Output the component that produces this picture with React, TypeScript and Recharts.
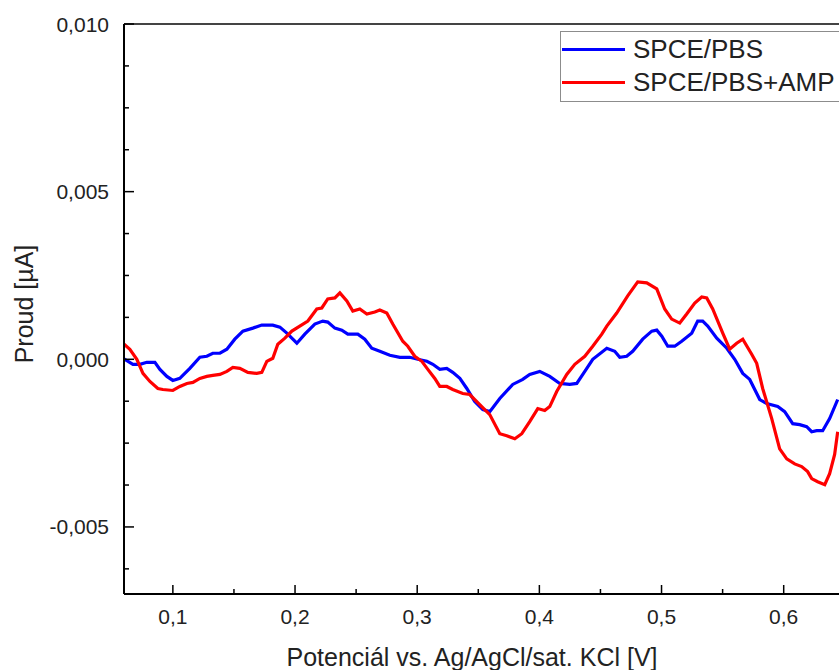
// Differential pulse voltammogram — SPCE/PBS vs SPCE/PBS+AMP.
// Recharts LineChart, numeric x axis, inward major/minor ticks drawn by custom tick renderers.

import { LineChart, Line, XAxis, YAxis, Legend, ReferenceLine, Label } from 'recharts';

const FONT = '"Liberation Sans", Arial, sans-serif';

const blueX = [
  0.0591, 0.0673, 0.0730, 0.0787, 0.0853, 0.0894, 0.0951, 0.1000, 0.1057, 0.1139,
  0.1221, 0.1278, 0.1327, 0.1385, 0.1442, 0.1507, 0.1573, 0.1655, 0.1728, 0.1818,
  0.1876, 0.1933, 0.1982, 0.2015, 0.2080, 0.2162, 0.2227, 0.2268, 0.2326, 0.2383,
  0.2432, 0.2514, 0.2571, 0.2628, 0.2694, 0.2776, 0.2858, 0.2939, 0.3005, 0.3079,
  0.3128, 0.3185, 0.3242, 0.3291, 0.3349, 0.3406, 0.3471, 0.3537, 0.3594, 0.3676,
  0.3782, 0.3864, 0.3921, 0.4003, 0.4085, 0.4167, 0.4249, 0.4306, 0.4372, 0.4437,
  0.4552, 0.4617, 0.4658, 0.4715, 0.4764, 0.4846, 0.4920, 0.4961, 0.5002, 0.5051,
  0.5108, 0.5165, 0.5247, 0.5296, 0.5337, 0.5378, 0.5452, 0.5534, 0.5599, 0.5665,
  0.5722, 0.5804, 0.5861, 0.5951, 0.6008, 0.6074, 0.6131, 0.6188, 0.6229, 0.6270,
  0.6319, 0.6376, 0.6442,
];
const blueY = [
  0.00003, -0.00015, -0.00015, -0.00009, -0.00009, -0.0003, -0.00051, -0.00063, -0.00057, -0.00027,
  0.00006, 0.00009, 0.00018, 0.00018, 0.0003, 0.0006, 0.00084, 0.00093, 0.00102, 0.00102,
  0.00096, 0.00078, 0.0006, 0.00048, 0.00075, 0.00105, 0.00114, 0.00111, 0.00093, 0.00087,
  0.00075, 0.00075, 0.0006, 0.00033, 0.00024, 0.00012, 0.00006, 0.00006, 0.0, -0.00006,
  -0.00015, -0.0003, -0.00027, -0.00039, -0.00057, -0.00087, -0.00126, -0.0015, -0.00156, -0.00117,
  -0.00075, -0.0006, -0.00045, -0.00036, -0.00051, -0.00072, -0.00075, -0.00072, -0.00036, 0.0,
  0.00033, 0.00024, 0.00006, 0.00009, 0.00024, 0.0006, 0.00084, 0.00087, 0.00069, 0.00039,
  0.00039, 0.00054, 0.00078, 0.00114, 0.00114, 0.00099, 0.00063, 0.00033, 0.0, -0.00042,
  -0.0006, -0.0012, -0.00132, -0.00141, -0.00156, -0.00192, -0.00195, -0.00201, -0.00216, -0.00213,
  -0.00213, -0.00177, -0.0012,
];

const redX = [
  0.0591, 0.0648, 0.0705, 0.0755, 0.0812, 0.0877, 0.0918, 0.1000, 0.1057, 0.1115,
  0.1164, 0.1221, 0.1278, 0.1327, 0.1385, 0.1442, 0.1491, 0.1548, 0.1614, 0.1687,
  0.1728, 0.1769, 0.1818, 0.1859, 0.1917, 0.1974, 0.2039, 0.2105, 0.2178, 0.2219,
  0.2268, 0.2326, 0.2367, 0.2424, 0.2473, 0.2530, 0.2588, 0.2653, 0.2694, 0.2751,
  0.2800, 0.2882, 0.2923, 0.2980, 0.3038, 0.3087, 0.3144, 0.3185, 0.3242, 0.3291,
  0.3373, 0.3430, 0.3512, 0.3594, 0.3676, 0.3733, 0.3799, 0.3856, 0.3921, 0.3987,
  0.4044, 0.4085, 0.4142, 0.4224, 0.4290, 0.4372, 0.4437, 0.4511, 0.4552, 0.4633,
  0.4723, 0.4805, 0.4879, 0.4961, 0.5026, 0.5083, 0.5149, 0.5206, 0.5272, 0.5329,
  0.5370, 0.5419, 0.5501, 0.5558, 0.5615, 0.5665, 0.5738, 0.5779, 0.5828, 0.5902,
  0.5967, 0.6025, 0.6090, 0.6147, 0.6196, 0.6229, 0.6278, 0.6336, 0.6376, 0.6417,
  0.6442,
];
const redY = [
  0.00048, 0.0003, 0.0, -0.00042, -0.00066, -0.00087, -0.0009, -0.00093, -0.00081, -0.00072,
  -0.00069, -0.00057, -0.00051, -0.00048, -0.00045, -0.00036, -0.00024, -0.00027, -0.00039, -0.00042,
  -0.00039, -0.00006, 0.00003, 0.00045, 0.00063, 0.00084, 0.00099, 0.00114, 0.0015, 0.00153,
  0.0018, 0.00183, 0.00198, 0.00174, 0.00144, 0.0015, 0.00135, 0.00141, 0.00147, 0.00138,
  0.00105, 0.00054, 0.00039, 0.00009, -0.00006, -0.0003, -0.00057, -0.00081, -0.00081, -0.0009,
  -0.00102, -0.00105, -0.00135, -0.00165, -0.00222, -0.00228, -0.00237, -0.00222, -0.00186, -0.00147,
  -0.00153, -0.00141, -0.00096, -0.00045, -0.00015, 0.00009, 0.00039, 0.00075, 0.00099, 0.00138,
  0.00189, 0.00231, 0.00228, 0.0021, 0.0015, 0.0012, 0.00108, 0.00135, 0.00168, 0.00186,
  0.00183, 0.0015, 0.00078, 0.0003, 0.00048, 0.0006, 0.00015, -0.00012, -0.00087, -0.00177,
  -0.00267, -0.00297, -0.00312, -0.0032, -0.00335, -0.00356, -0.00365, -0.00374, -0.00341, -0.00284,
  -0.00216,
];

const xTicks = [0.1, 0.15, 0.2, 0.25, 0.3, 0.35, 0.4, 0.45, 0.5, 0.55, 0.6, 0.65];
const yTicks = [
  -0.00625, -0.005, -0.00375, -0.0025, -0.00125, 0, 0.00125, 0.0025, 0.00375,
  0.005, 0.00625, 0.0075, 0.00875, 0.01,
];

const blueData = blueX.map((x, i) => ({ x, y: blueY[i] }));
const redData = redX.map((x, i) => ({ x, y: redY[i] }));

const isMajor = (v: number, step: number) => Math.abs(v / step - Math.round(v / step)) < 1e-6;
const comma = (v: number, d: number) => v.toFixed(d).replace('.', ',');

function YTick({ x, y, payload }: any) {
  const major = isMajor(payload.value, 0.005);
  return (
    <g>
      <line x1={x} x2={x + (major ? 10 : 5)} y1={y} y2={y} stroke="#000" strokeWidth={1.5} />
      {major && (
        <text x={x - 15} y={y} textAnchor="end" dominantBaseline="central"
              fontSize={21} fontFamily={FONT} fill="#222">
          {comma(payload.value, 3)}
        </text>
      )}
    </g>
  );
}

function XTick({ x, y, payload }: any) {
  const major = isMajor(payload.value, 0.1);
  return (
    <g>
      <line x1={x} x2={x} y1={y} y2={y - (major ? 9 : 5)} stroke="#000" strokeWidth={1.5} />
      {major && (
        <text x={x} y={y + 30} textAnchor="middle" fontSize={21} fontFamily={FONT} fill="#222">
          {comma(payload.value, 1)}
        </text>
      )}
    </g>
  );
}

function LegendBox({ payload }: any) {
  const items = (payload ?? []) as { value: string; color: string }[];
  return (
    <div style={{
      width: 300, height: 71, border: '1px solid #8c8c8c', background: '#fff',
      boxSizing: 'border-box', paddingTop: 1, fontFamily: FONT, fontSize: 26, color: '#222',
    }}>
      {items.map(it => (
        <div key={it.value} style={{ display: 'flex', alignItems: 'center', height: 33 }}>
          <span style={{ width: 63, height: 3, background: it.color, marginLeft: 1 }} />
          <span style={{ marginLeft: 8, lineHeight: '33px' }}>{it.value}</span>
        </div>
      ))}
    </div>
  );
}

export default function App() {
  return (
    <div style={{
      position: 'fixed', left: 0, top: 0, width: 839, height: 670,
      overflow: 'hidden', background: '#fff',
    }}>
      <LineChart width={867} height={670} margin={{ top: 24, right: 10, bottom: 36, left: 60 }}>
        <XAxis
          type="number"
          dataKey="x"
          domain={[0.06, 0.66]}
          allowDataOverflow
          ticks={xTicks}
          interval={0}
          tick={<XTick />}
          tickLine={false}
          tickSize={0}
          tickMargin={0}
          height={40}
          axisLine={{ stroke: '#000', strokeWidth: 2 }}
        >
          <Label content={() => (
            <text x={472} y={666} textAnchor="middle" fontSize={25} fontFamily={FONT} fill="#222">
              Potenciál vs. Ag/AgCl/sat. KCl [V]
            </text>
          )} />
        </XAxis>
        <YAxis
          type="number"
          domain={[-0.007, 0.01]}
          allowDataOverflow
          ticks={yTicks}
          interval={0}
          tick={<YTick />}
          tickLine={false}
          tickSize={0}
          tickMargin={0}
          width={64}
          axisLine={{ stroke: '#000', strokeWidth: 2 }}
        >
          <Label content={() => (
            <text x={33} y={304} textAnchor="middle" fontSize={25} fontFamily={FONT} fill="#222"
                  transform="rotate(-90 33 304)">
              Proud [µA]
            </text>
          )} />
        </YAxis>
        <ReferenceLine y={0.01} stroke="#444" strokeWidth={2} />
        <Line data={blueData} dataKey="y" name="SPCE/PBS" stroke="#0000ff" strokeWidth={3.2}
              dot={false} activeDot={false} isAnimationActive={false} />
        <Line data={redData} dataKey="y" name="SPCE/PBS+AMP" stroke="#ff0000" strokeWidth={3.2}
              dot={false} activeDot={false} isAnimationActive={false} />
        <Legend
          layout="vertical"
          align="center"
          verticalAlign="middle"
          content={<LegendBox />}
          wrapperStyle={{ top: 31, left: 560, width: 300 }}
        />
      </LineChart>
    </div>
  );
}
